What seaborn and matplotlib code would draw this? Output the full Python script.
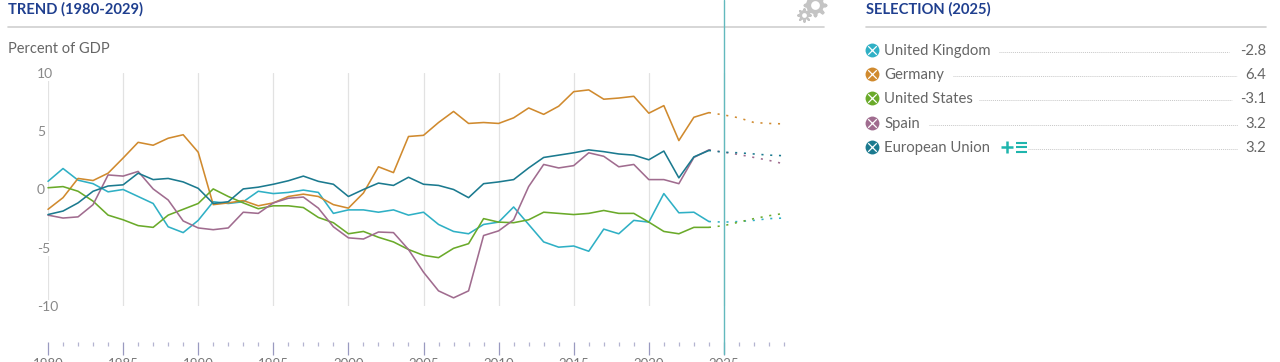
import numpy as np
import matplotlib
matplotlib.use('Agg')
import matplotlib.pyplot as plt
import seaborn as sns

# Values
years = list(range(1980, 2025))
forecast_years = list(range(2024, 2030))

uk = [0.7, 1.8, 0.8, 0.5, -0.2, 0.0, -0.6, -1.2, -3.2, -3.7, -2.65, -1.05, -1.2, -1.05, -0.15,
      -0.35, -0.25, -0.05, -0.25, -2.05, -1.75, -1.75, -1.95, -1.75, -2.2, -1.95, -3.0, -3.6, -3.8, -3.0,
      -2.8, -1.5, -3.0, -4.5, -4.95, -4.85, -5.3, -3.4, -3.8, -2.65, -2.8, -0.35, -2.0, -1.95, -2.75]
germany = [-1.7, -0.7, 0.95, 0.77, 1.4, 2.7, 4.05, 3.8, 4.4, 4.7, 3.2, -1.3, -1.15, -0.95, -1.4,
           -1.15, -0.6, -0.4, -0.6, -1.3, -1.6, -0.3, 1.95, 1.45, 4.55, 4.65, 5.75, 6.7, 5.67, 5.75,
           5.67, 6.15, 7.0, 6.45, 7.15, 8.4, 8.55, 7.75, 7.85, 8.0, 6.55, 7.2, 4.2, 6.2, 6.6]
us = [0.15, 0.25, -0.15, -1.0, -2.2, -2.6, -3.1, -3.25, -2.2, -1.7, -1.2, 0.05, -0.6, -1.15, -1.65,
      -1.4, -1.4, -1.55, -2.4, -2.85, -3.8, -3.6, -4.1, -4.5, -5.15, -5.65, -5.85, -5.05, -4.65, -2.5,
      -2.8, -2.85, -2.6, -1.95, -2.05, -2.15, -2.05, -1.8, -2.05, -2.05, -2.8, -3.6, -3.8, -3.25, -3.25]
spain = [-2.2, -2.45, -2.35, -1.3, 1.25, 1.15, 1.55, 0.05, -0.9, -2.7, -3.3, -3.45, -3.3, -1.95, -2.05,
         -1.15, -0.75, -0.65, -1.6, -3.2, -4.15, -4.25, -3.65, -3.7, -5.15, -7.1, -8.7, -9.3, -8.7, -3.95,
         -3.55, -2.6, 0.25, 2.15, 1.85, 2.05, 3.15, 2.85, 1.95, 2.15, 0.85, 0.85, 0.5, 2.75, 3.4]
eu = [-2.15, -1.85, -1.15, -0.15, 0.3, 0.4, 1.4, 0.85, 0.95, 0.65, 0.1, -1.2, -1.05, 0.05, 0.2,
      0.45, 0.75, 1.15, 0.7, 0.45, -0.6, 0.0, 0.55, 0.35, 1.05, 0.45, 0.35, 0.0, -0.7, 0.5,
      0.65, 0.85, 1.85, 2.75, 2.95, 3.15, 3.4, 3.25, 3.05, 2.95, 2.55, 3.3, 1.0, 2.8, 3.35]

uk_f = [-2.75, -2.8, -2.75, -2.65, -2.5, -2.45]
germany_f = [6.6, 6.4, 6.15, 5.75, 5.67, 5.63]
us_f = [-3.25, -3.1, -2.8, -2.5, -2.25, -2.05]
spain_f = [3.4, 3.2, 3.0, 2.75, 2.5, 2.2]
eu_f = [3.35, 3.2, 3.15, 3.05, 2.95, 2.9]

names = ['United Kingdom', 'Germany', 'United States', 'Spain', 'European Union']
values_2025 = ['-2.8', '6.4', '-3.1', '3.2', '3.2']
colors = ['#2fb0c5', '#d08a2e', '#6aaa2a', '#a06c8f', '#1b7a8f']
history = [uk, germany, us, spain, eu]
forecast = [uk_f, germany_f, us_f, spain_f, eu_f]

y_ticks = [10, 5, 0, -5, -10]
year_ticks = list(range(1980, 2030, 5))

sns.set_style('white')
plt.rcParams['font.family'] = ['Lato', 'DejaVu Sans']
plt.rcParams['axes.unicode_minus'] = False

W, H = 1280, 362
fig = plt.figure(figsize=(W / 100, H / 100), dpi=100)

# chart axes, placed in pixels: 1980..2029 -> 48..784, 10..-10 -> 73..306
ax = fig.add_axes([48 / W, 1 - 306 / H, (784 - 48) / W, (306 - 73) / H])
ax.patch.set_alpha(0)
for name, col, h, f in zip(names, colors, history, forecast):
    sns.lineplot(x=years, y=h, color=col, linewidth=1.15, ax=ax, zorder=3, clip_on=False)
    sns.lineplot(x=forecast_years, y=f, color=col, linewidth=1.15, linestyle=(0, (1.3, 4.2)),
                 ax=ax, zorder=3, clip_on=False)

ax.set_xlim(1980, 2029)
ax.set_ylim(-10, 10)
for side in ['left', 'top', 'right', 'bottom']:
    ax.spines[side].set_visible(False)
ax.spines['bottom'].set_position(('outward', 36 * 0.72))

ax.set_xticks(year_ticks)
ax.set_xticks(range(1980, 2030), minor=True)
ax.set_yticks(y_ticks)
ax.tick_params(axis='x', which='major', bottom=True, length=9.4, width=0.9, color='#9a9ac0',
               labelcolor='#777777', labelsize=9.5, pad=2)
ax.tick_params(axis='x', which='minor', bottom=True, length=3, width=0.9, color='#b4b4d0')
ax.tick_params(axis='y', length=0, pad=8, labelcolor='#888888', labelsize=10)
for lab in ax.get_yticklabels():
    lab.set_horizontalalignment('left')
    lab.set_verticalalignment('center_baseline')
    lab.set_bbox(dict(facecolor='white', edgecolor='none', pad=1))
    lab.set_zorder(5)
ax.xaxis.grid(True, which='major', color='#e2e2e2', linewidth=0.9)
ax.yaxis.grid(False)

# overlay in pixel coordinates for headers and the selection list
ov = fig.add_axes([0, 0, 1, 1])
ov.set_xlim(0, W)
ov.set_ylim(H, 0)
ov.axis('off')
ov.patch.set_alpha(0)

navy = '#1f3f8f'
ov.text(8, 9.5, 'TREND (1980-2029)', color=navy, fontsize=10.6, fontweight='bold', va='center')
ov.text(866, 9.5, 'SELECTION (2025)', color=navy, fontsize=10.6, fontweight='bold', va='center')
ov.plot([8, 824], [27, 27], color='#cfcfcf', lw=1.2)
ov.plot([866, 1266], [27, 27], color='#cfcfcf', lw=1.2)
ov.text(8, 49, 'Percent of GDP', color='#666666', fontsize=10.5, va='center')
ov.plot([724, 724], [0, 354], color='#62b9bd', lw=1.0)

# gears: ring plus thick spokes
gear = '#c4c4c4'
for gx, gy, ring, spokes, rw, sw in [(815, 5, 95, 210, 3.2, 2.6), (804, 15, 28, 80, 1.8, 1.6)]:
    ov.scatter([gx], [gy], s=ring, facecolors='none', edgecolors=gear, linewidths=rw)
    ov.scatter([gx], [gy], s=spokes, marker=(8, 2, 0), color=gear, linewidths=sw, zorder=1)
    ov.scatter([gx], [gy], s=ring * 0.42, color='white', linewidths=0, zorder=2)

# selection rows
row_y = [50, 74, 98, 123, 147]
leader_x = [(999, 1229), (953, 1237), (979, 1232), (929, 1238), (1028, 1238)]
for name, val, col, y, (x0, x1) in zip(names, values_2025, colors, row_y, leader_x):
    ov.scatter([872], [y], s=100, color=col, linewidths=0, zorder=3)
    ov.scatter([872], [y], s=38, marker='x', color='white', linewidths=0.9, zorder=4)
    ov.text(884, y + 1, name, color='#666666', fontsize=10.7, va='center')
    ov.plot([x0, x1], [y + 2, y + 2], color='#c8c8c8', lw=0.7, linestyle=(0, (1, 1)))
    ov.text(1266, y + 1, val, color='#666666', fontsize=10.7, va='center', ha='right')

# add / list icons next to European Union
teal = '#1fb5ad'
ov.plot([1001, 1013], [147, 147], color=teal, lw=1.8, solid_capstyle='butt')
ov.plot([1007, 1007], [141, 153], color=teal, lw=1.8, solid_capstyle='butt')
for dy in (-4.5, 0, 4.5):
    ov.plot([1016, 1027], [147 + dy, 147 + dy], color=teal, lw=1.5, solid_capstyle='butt')

fig.savefig('out.png', dpi=100)
